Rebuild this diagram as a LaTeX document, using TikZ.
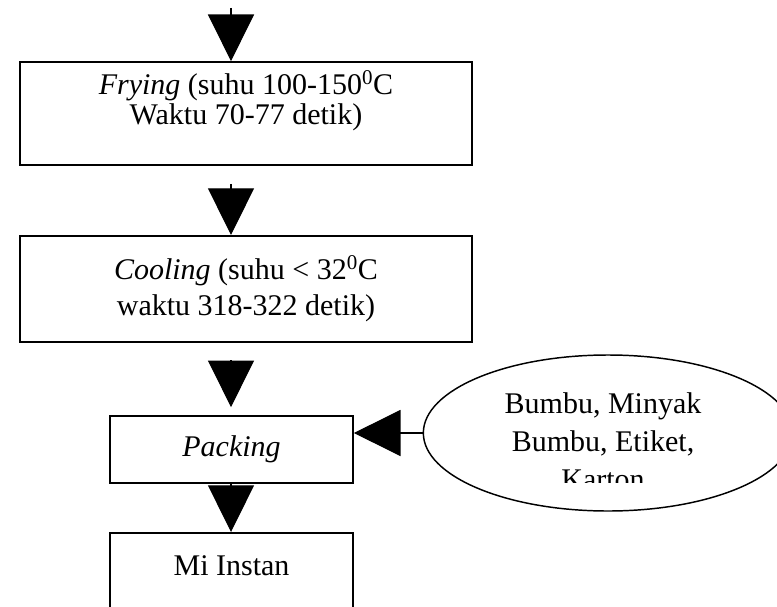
\documentclass[tikz,border=0pt]{standalone}
\usepackage{fontspec}
\setmainfont{Liberation Serif}
\usetikzlibrary{arrows.meta, positioning, shapes.geometric, calc}

\begin{document}
\begin{tikzpicture}[x=0.75pt, y=-0.75pt,
            font=\fontsize{22.5}{22}\selectfont,
            tahap/.style={draw, line width=1.5pt, align=center, inner sep=0pt},
            bahan/.style={draw, ellipse, line width=1.1pt, minimum width=277pt, minimum height=117pt, inner sep=0pt},
            alir/.style={line width=0.8pt, -{Triangle[width=34.5pt, length=35pt]}}]

            \clip (0,0) rectangle (777,606);

            % Process boxes
            \node[tahap, minimum width=339pt, minimum height=77pt, text depth=24pt] (frying) at (246,113.5) {\textit{Frying} (suhu 100-150\textsuperscript{0}C\\Waktu 70-77 detik)};
            \node[tahap, minimum width=339pt, minimum height=79.5pt, font=\fontsize{22.5}{27}\selectfont] (cooling) at (246,289) {\textit{Cooling} (suhu < 32\textsuperscript{0}C\\waktu 318-322 detik)};
            \node[tahap, minimum width=182pt, minimum height=50pt] (packing) at (231.5,449.5) {\textit{Packing}};
            \node[tahap, minimum width=182pt, minimum height=75pt, anchor=north, text depth=26pt] (produk) at (231.5,532) {Mi Instan};

            % Ingredients ellipse, text cut off as printed
            \node[bahan] (bumbu) at (608,433) {};
            \begin{scope}
                \clip (440,340) rectangle (777,482);
                \node[align=center, font=\fontsize{22.5}{28.5}\selectfont] (bumbutext) at (603,441) {Bumbu, Minyak\\Bumbu, Etiket,\\Karton};
            \end{scope}

            % Flow arrows
            \coordinate (awal) at (231,8);
            \draw[alir] (awal) -- (awal |- frying.north);
            \draw[alir] ($(awal |- frying.south)+(0,18)$) -- (awal |- cooling.north);
            \draw[alir, shorten >=6pt] ($(awal |- cooling.south)+(0,17)$) -- (awal |- packing.north);
            \draw[alir] (awal |- packing.south) -- (awal |- produk.north);
            \draw[alir] (bumbu.west) -- (bumbu.west -| packing.east);
\end{tikzpicture}
\end{document}
